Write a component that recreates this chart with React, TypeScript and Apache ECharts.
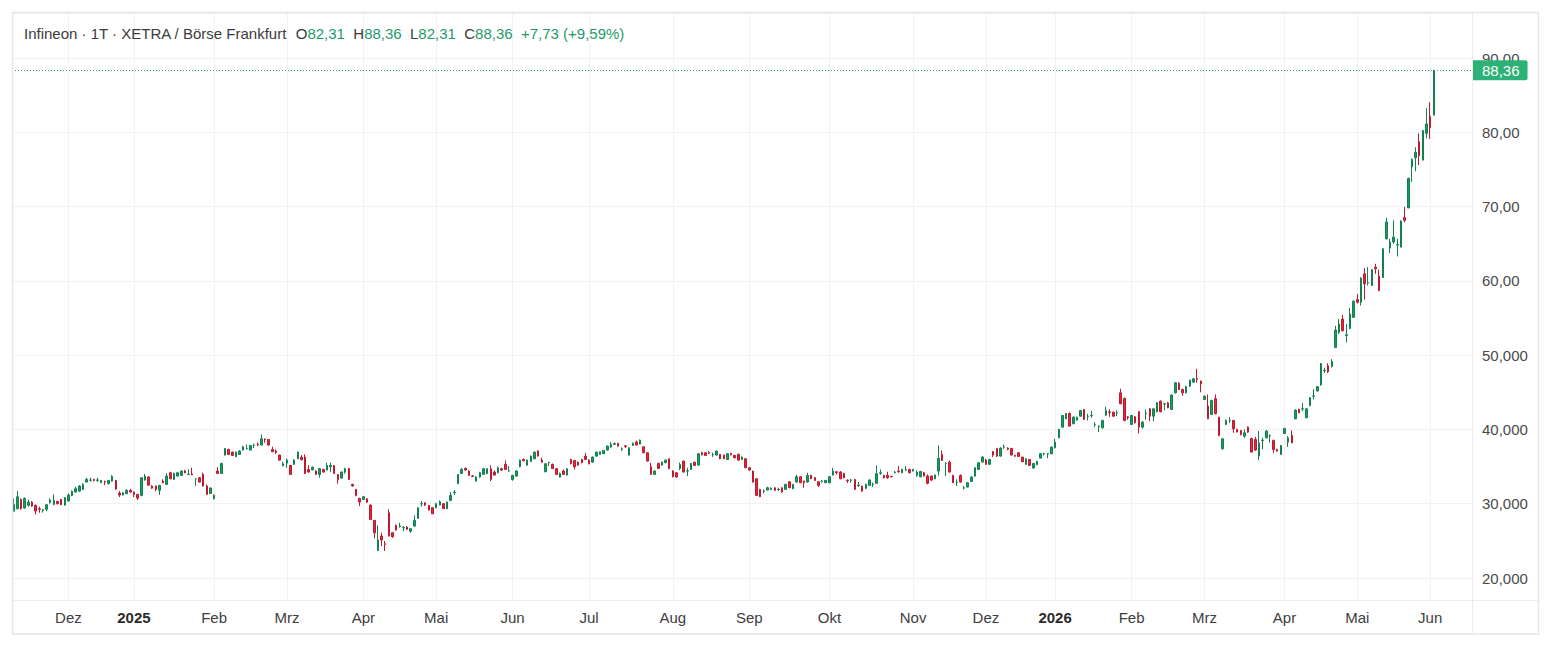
import { useEffect, useRef } from "react";
import * as echarts from "echarts";

// Daily candles, [open, close, low, high], one array per month
const nov24 = [
  [29.0, 29.9, 28.95, 30.7], [29.33, 30.94, 29.24, 31.7], [30.58, 29.33, 29.2, 30.7], [29.42, 30.72, 29.35, 30.85],
  [29.78, 30.22, 29.6, 30.58], [30.22, 29.69, 29.6, 30.35], [29.78, 29.01, 28.56, 29.9], [29.33, 29.24, 28.79, 29.6],
  [29.1, 29.18, 28.8, 29.3], [29.24, 29.87, 29.0, 29.95], [30.13, 30.49, 30.05, 30.72], [29.91, 30.45, 29.78, 31.26],
  [30.31, 30.0, 29.9, 30.4], [30.58, 29.87, 29.8, 30.65], [29.82, 30.81, 29.75, 30.9],
];
const dec24 = [
  [30.36, 31.17, 30.3, 31.4], [31.12, 31.66, 31.0, 31.8], [31.57, 32.02, 31.5, 32.3], [31.7, 32.38, 31.6, 32.5],
  [31.93, 32.6, 31.85, 32.75], [32.92, 33.27, 32.85, 33.5], [33.16, 33.2, 33.0, 33.5], [33.27, 33.14, 33.0, 33.35],
  [33.15, 33.2, 32.95, 33.5], [32.83, 33.14, 32.8, 33.2], [33.0, 32.92, 32.5, 33.1], [32.7, 33.14, 32.6, 33.2],
  [33.05, 33.68, 33.0, 33.85], [33.14, 31.97, 31.9, 33.2], [31.44, 31.17, 30.9, 31.7], [31.17, 31.48, 31.1, 31.6],
  [31.35, 31.8, 31.3, 31.95], [31.8, 31.57, 31.5, 32.0],
];
const jan25 = [
  [31.57, 31.26, 30.9, 31.65], [31.26, 30.76, 30.5, 31.3], [31.12, 33.5, 31.0, 33.55], [33.18, 33.72, 33.1, 34.0],
  [33.6, 32.5, 32.45, 33.7], [32.38, 32.1, 32.0, 32.5], [32.38, 31.93, 31.7, 32.45], [31.8, 32.47, 31.17, 32.55],
  [33.05, 32.83, 32.75, 33.3], [32.6, 33.72, 32.5, 34.1], [34.17, 33.36, 33.3, 34.3], [33.27, 34.08, 33.2, 34.2],
  [33.72, 34.17, 33.65, 34.3], [33.81, 34.4, 33.75, 34.5], [34.4, 34.17, 34.1, 34.55], [33.93, 33.97, 33.9, 34.62],
  [34.0, 33.9, 33.85, 34.85], [33.35, 33.37, 32.4, 33.4], [33.5, 32.92, 32.85, 33.6], [33.95, 32.38, 32.3, 34.17],
  [32.38, 31.26, 31.2, 32.6], [31.39, 32.11, 31.3, 32.2],
];
const feb25 = [
  [30.67, 31.12, 30.58, 31.26], [34.4, 34.08, 34.0, 34.93], [34.08, 35.43, 34.0, 35.5], [36.55, 37.44, 36.5, 37.5],
  [37.31, 36.64, 36.6, 37.4], [36.95, 36.5, 36.45, 37.0], [36.32, 36.95, 36.3, 37.0], [36.64, 37.09, 36.6, 37.2],
  [37.22, 37.67, 37.2, 37.8], [37.4, 37.45, 37.3, 37.98], [37.22, 37.85, 37.2, 37.9], [37.85, 37.9, 37.5, 38.1],
  [38.0, 37.9, 37.75, 38.25], [37.9, 38.74, 37.85, 39.33], [38.7, 38.6, 38.2, 38.8], [38.65, 37.9, 37.85, 38.7],
  [37.31, 37.0, 36.95, 37.67], [37.1, 36.9, 36.7, 37.3], [36.55, 35.87, 35.8, 36.6], [35.1, 35.38, 35.05, 35.65],
];
const mar25 = [
  [35.47, 35.87, 34.85, 36.1], [35.16, 33.95, 33.9, 35.2], [35.3, 35.87, 35.25, 36.0], [36.05, 36.95, 36.0, 37.0],
  [36.28, 35.92, 35.85, 36.55], [36.28, 34.08, 34.0, 36.64], [34.62, 34.26, 34.2, 35.2], [34.57, 34.93, 34.5, 35.0],
  [34.4, 33.95, 33.9, 34.5], [33.95, 34.75, 33.5, 34.8], [34.62, 34.26, 34.2, 34.7], [34.53, 35.16, 34.5, 35.52],
  [34.98, 35.16, 34.26, 35.52], [35.16, 34.08, 34.0, 35.2], [33.95, 33.23, 32.7, 34.0], [33.45, 34.26, 33.4, 34.35],
  [34.26, 34.7, 34.03, 34.85], [34.75, 33.27, 33.2, 34.8], [32.6, 32.38, 32.3, 32.7], [31.93, 31.12, 31.0, 32.0],
  [30.72, 30.22, 29.69, 30.8],
];
const apr25 = [
  [30.58, 30.94, 30.5, 31.0], [30.67, 30.2, 30.1, 30.7], [29.82, 27.89, 27.8, 29.9], [27.76, 26.1, 25.34, 27.8],
  [23.72, 25.11, 23.63, 27.09], [25.65, 25.11, 24.3, 26.1], [24.6, 24.53, 23.63, 24.98], [28.79, 25.65, 25.6, 29.24],
  [26.1, 25.56, 25.4, 26.2], [27.09, 26.46, 26.4, 27.2], [26.95, 27.0, 26.77, 27.44], [26.75, 26.8, 26.3, 27.0],
  [26.86, 26.55, 26.5, 27.0], [26.3, 26.64, 26.1, 26.7], [27.0, 27.76, 26.9, 28.43], [28.03, 29.46, 28.0, 29.5],
  [29.98, 30.0, 29.6, 30.36], [30.13, 29.82, 29.7, 30.2], [29.78, 29.15, 29.1, 29.85], [29.46, 28.65, 28.6, 29.5],
];
const may25 = [
  [29.46, 30.0, 29.4, 30.1], [29.82, 30.27, 29.8, 30.45], [30.0, 29.33, 29.3, 30.1], [29.33, 30.22, 29.3, 30.3],
  [30.45, 31.12, 30.4, 31.57], [31.5, 31.57, 31.2, 31.84], [32.7, 33.95, 32.65, 34.0], [34.08, 34.62, 34.0, 34.8],
  [34.75, 34.53, 34.45, 34.9], [34.4, 33.81, 33.75, 34.5], [33.75, 33.68, 33.6, 33.85], [33.05, 33.59, 33.0, 33.7],
  [33.6, 34.17, 33.5, 34.3], [33.95, 34.71, 33.9, 34.8], [34.08, 34.71, 33.95, 34.75], [34.71, 33.27, 33.05, 35.16],
  [34.26, 33.86, 33.8, 34.5], [34.17, 34.84, 34.1, 35.0], [34.71, 34.53, 34.4, 34.85], [35.3, 34.62, 34.55, 35.83],
  [34.4, 34.44, 34.3, 35.07],
];
const jun25 = [
  [33.27, 33.81, 33.1, 33.9], [33.72, 34.4, 33.65, 34.5], [34.98, 35.87, 34.9, 35.95], [35.96, 35.78, 35.7, 36.1],
  [35.2, 35.87, 35.1, 35.95], [35.7, 36.41, 35.65, 36.5], [36.05, 36.95, 36.0, 37.0], [37.09, 36.41, 36.35, 37.2],
  [35.87, 35.6, 35.55, 36.2], [34.3, 35.38, 34.25, 35.45], [35.5, 35.55, 35.07, 35.65], [35.3, 34.75, 34.7, 35.4],
  [34.71, 33.95, 33.9, 34.8], [33.59, 34.08, 33.55, 34.2], [34.4, 33.95, 33.9, 34.62], [33.86, 34.71, 33.8, 34.75],
  [35.96, 35.38, 35.3, 36.05], [35.83, 34.98, 34.6, 35.9], [35.6, 35.2, 35.1, 35.7], [35.96, 35.52, 35.45, 36.05],
  [36.41, 35.96, 35.9, 36.86],
];
const jul25 = [
  [35.87, 35.38, 35.3, 35.95], [35.6, 36.28, 35.55, 36.35], [36.41, 36.95, 36.35, 37.0], [36.64, 37.0, 36.6, 37.05],
  [36.73, 37.18, 36.7, 37.25], [37.22, 37.76, 37.15, 37.85], [37.62, 37.98, 37.55, 38.3], [38.0, 38.1, 37.9, 38.25],
  [38.12, 37.76, 37.7, 38.2], [37.35, 37.4, 37.1, 37.6], [37.8, 37.72, 37.5, 37.9], [36.55, 37.53, 36.5, 37.6],
  [37.85, 38.12, 37.8, 38.25], [38.3, 37.9, 37.85, 38.5], [38.03, 38.56, 38.0, 38.65], [37.67, 36.86, 36.8, 37.7],
  [36.86, 35.74, 35.7, 36.9], [34.98, 33.95, 33.9, 35.52], [33.95, 34.4, 33.9, 34.5], [35.43, 34.75, 34.7, 35.5],
  [35.2, 35.6, 35.15, 35.7], [35.52, 35.87, 35.45, 35.95], [36.05, 34.71, 34.65, 36.1],
];
const aug25 = [
  [34.4, 33.63, 33.55, 34.5], [34.17, 33.59, 33.5, 34.2], [34.75, 35.3, 34.53, 35.52], [35.74, 34.26, 34.2, 35.8],
  [34.4, 34.44, 33.72, 34.84], [34.62, 35.43, 34.55, 35.5], [35.6, 35.16, 35.1, 35.65], [35.2, 36.73, 35.15, 36.8],
  [36.86, 36.6, 36.5, 37.0], [36.86, 36.5, 36.45, 36.95], [36.86, 36.8, 36.7, 37.1], [36.6, 36.64, 36.3, 36.86],
  [36.55, 37.09, 36.5, 37.15], [36.64, 36.05, 36.0, 36.7], [36.55, 36.05, 36.0, 36.6], [35.96, 36.73, 35.9, 36.8],
  [36.77, 36.6, 36.5, 36.86], [36.5, 36.19, 36.1, 36.6], [36.64, 35.87, 35.8, 36.75], [35.96, 36.28, 35.9, 36.35],
  [36.05, 34.84, 34.8, 36.1],
];
const sep25 = [
  [34.84, 34.53, 34.45, 34.9], [34.4, 32.92, 32.85, 34.45], [33.36, 31.12, 31.05, 33.4], [31.93, 30.94, 30.9, 32.0],
  [31.66, 31.7, 31.4, 31.93], [31.84, 32.15, 31.8, 32.3], [31.9, 32.1, 31.85, 32.2], [32.15, 31.8, 31.75, 32.2],
  [31.9, 31.95, 31.7, 32.15], [32.15, 31.57, 31.5, 32.2], [31.93, 32.6, 31.9, 32.7], [32.96, 32.15, 32.1, 33.0],
  [32.02, 32.6, 31.95, 32.65], [32.92, 33.63, 32.85, 33.9], [33.63, 32.83, 32.75, 33.7], [33.05, 32.83, 32.15, 33.1],
  [32.92, 33.81, 32.85, 34.17], [33.81, 33.36, 33.3, 33.9], [33.5, 33.14, 33.1, 33.6], [32.96, 32.47, 32.25, 33.0],
  [33.0, 33.05, 32.85, 33.2], [32.83, 33.14, 32.8, 33.2],
];
const oct25 = [
  [32.83, 33.63, 32.75, 33.7], [33.86, 34.4, 33.8, 34.84], [34.3, 34.2, 33.95, 34.4], [34.26, 33.36, 33.3, 34.4],
  [34.08, 33.5, 33.4, 34.17], [33.18, 33.1, 32.8, 33.27], [33.14, 33.2, 32.83, 33.36], [33.27, 31.93, 31.9, 33.3],
  [32.47, 32.5, 32.25, 32.92], [32.38, 31.7, 31.6, 32.4], [32.06, 32.6, 32.0, 32.7], [32.47, 33.18, 32.4, 33.3],
  [32.6, 32.65, 32.25, 32.83], [32.74, 34.04, 32.7, 35.16], [34.1, 34.17, 33.9, 34.62], [33.81, 33.5, 33.4, 33.9],
  [33.81, 33.5, 33.36, 34.3], [33.68, 33.63, 33.55, 33.75], [34.17, 34.26, 34.1, 34.4], [34.4, 34.3, 34.17, 35.07],
  [34.17, 34.62, 34.1, 34.7], [34.53, 34.6, 34.4, 35.07], [34.62, 34.17, 34.1, 34.7],
];
const nov25 = [
  [34.4, 34.62, 34.35, 34.7], [33.81, 34.26, 33.63, 34.48], [33.63, 34.35, 33.55, 34.4], [34.17, 33.72, 33.65, 34.3],
  [33.72, 32.74, 32.6, 33.95], [33.72, 33.18, 33.1, 33.8], [33.36, 33.86, 33.3, 33.95], [34.39, 36.1, 33.81, 37.85],
  [36.64, 35.83, 35.75, 37.18], [35.4, 35.43, 33.72, 35.6], [35.6, 34.26, 34.2, 35.83], [33.81, 32.83, 32.8, 33.9],
  [32.9, 32.92, 32.38, 33.27], [33.81, 32.92, 32.85, 33.95], [32.1, 32.15, 31.93, 32.38], [32.24, 32.83, 32.2, 32.92],
  [33.0, 33.59, 32.95, 33.7], [33.72, 34.84, 33.65, 34.93], [34.62, 35.52, 34.55, 35.6], [35.61, 36.28, 35.55, 36.41],
];
const dec25 = [
  [35.87, 35.3, 35.2, 36.05], [35.3, 35.96, 35.25, 36.05], [37.0, 36.55, 36.3, 37.1], [37.45, 36.41, 36.3, 37.5],
  [36.41, 37.49, 36.35, 37.6], [37.6, 37.63, 37.4, 37.98], [37.49, 37.35, 37.2, 37.6], [37.45, 36.55, 36.5, 37.5],
  [36.5, 36.4, 36.3, 36.6], [36.86, 36.37, 36.3, 36.9], [36.28, 35.65, 35.6, 36.3], [35.3, 36.05, 35.25, 36.1],
  [35.96, 35.16, 35.1, 36.0], [34.8, 35.43, 34.75, 35.5], [35.25, 35.7, 35.2, 35.8], [36.14, 36.73, 36.1, 36.8],
  [36.7, 36.75, 36.5, 36.86], [36.7, 36.75, 36.14, 36.8], [36.73, 37.62, 36.65, 37.7],
];
const jan26 = [
  [37.53, 38.3, 37.45, 38.74], [38.88, 40.0, 38.8, 40.1], [40.31, 41.88, 40.25, 41.95], [41.43, 42.15, 41.4, 42.2],
  [42.15, 40.45, 40.4, 42.3], [40.76, 41.66, 40.7, 41.75], [41.26, 41.66, 41.2, 41.7], [41.79, 42.55, 41.7, 42.6],
  [42.69, 41.35, 41.3, 42.75], [41.75, 41.79, 41.2, 42.1], [41.84, 41.88, 41.57, 42.47], [40.63, 40.67, 40.31, 40.99],
  [40.4, 40.45, 39.64, 40.54], [40.22, 41.21, 40.15, 41.3], [41.92, 42.55, 41.85, 43.05], [42.37, 42.3, 41.7, 42.7],
  [42.33, 41.79, 41.7, 42.4], [42.2, 42.24, 41.79, 42.6], [44.93, 43.45, 43.4, 45.47], [44.17, 41.21, 41.1, 44.3],
  [41.7, 41.57, 41.3, 41.8],
];
const feb26 = [
  [40.67, 41.88, 40.6, 41.95], [41.7, 40.9, 40.8, 41.8], [42.38, 40.31, 39.46, 42.45], [40.31, 40.99, 40.1, 41.1],
  [42.15, 42.2, 41.3, 42.69], [42.78, 41.79, 41.1, 42.85], [41.79, 42.78, 41.1, 42.85], [42.38, 43.59, 42.3, 43.7],
  [43.81, 42.38, 42.3, 43.9], [43.41, 43.45, 42.55, 43.6], [43.59, 42.91, 42.85, 43.7], [42.69, 44.62, 42.6, 44.71],
  [44.93, 46.28, 44.85, 46.35], [46.19, 45.38, 45.3, 46.37], [45.38, 44.93, 44.53, 45.5], [44.93, 45.74, 44.85, 45.9],
  [45.83, 46.64, 45.75, 46.7], [46.37, 46.82, 46.3, 46.9], [46.82, 46.73, 46.28, 48.16], [46.5, 46.14, 45.0, 46.6],
];
const mar26 = [
  [44.04, 44.48, 44.0, 44.6], [43.14, 41.43, 41.4, 44.71], [42.02, 43.9, 41.95, 44.0], [44.13, 42.11, 42.05, 44.71],
  [41.66, 39.2, 39.1, 41.7], [37.4, 38.74, 37.3, 38.85], [40.67, 41.21, 40.6, 41.35], [41.15, 41.21, 40.85, 41.66],
  [41.21, 40.09, 39.55, 41.3], [40.0, 39.64, 39.6, 40.1], [39.87, 39.33, 39.2, 39.9], [39.1, 39.55, 38.88, 40.0],
  [40.31, 39.64, 39.55, 40.4], [38.79, 36.95, 36.9, 38.85], [38.65, 37.22, 37.1, 39.0], [36.41, 38.21, 35.87, 39.78],
  [38.5, 38.56, 37.31, 38.88], [38.88, 39.78, 38.8, 39.9], [39.15, 39.2, 38.2, 39.33], [38.52, 37.31, 36.86, 38.65],
  [37.31, 37.09, 37.0, 37.4], [36.64, 37.85, 36.55, 37.9],
];
const apr26 = [
  [39.46, 40.14, 39.4, 40.2], [38.29, 38.87, 37.67, 39.1], [39.19, 38.2, 38.15, 39.87], [41.44, 42.61, 41.35, 42.7],
  [42.69, 42.24, 42.2, 42.8], [42.75, 42.78, 42.47, 43.59], [41.57, 42.78, 41.5, 42.85], [43.24, 44.28, 43.1, 44.35],
  [44.46, 44.5, 44.04, 45.4], [45.18, 45.77, 45.1, 45.83], [45.99, 48.87, 45.9, 48.95], [47.9, 47.97, 47.6, 48.3],
  [48.56, 47.75, 47.6, 48.9], [48.47, 49.14, 48.35, 49.46], [51.04, 53.38, 50.95, 53.96], [53.06, 54.19, 52.84, 54.86],
  [54.86, 53.29, 53.2, 55.41], [52.65, 52.75, 51.71, 54.19], [53.6, 55.54, 53.5, 56.35], [55.09, 57.25, 55.0, 57.4],
];
const may26 = [
  [57.48, 57.12, 56.95, 58.24], [57.12, 60.36, 56.67, 60.5], [60.95, 59.59, 57.48, 61.71], [59.7, 59.75, 59.37, 61.85],
  [59.37, 61.49, 59.3, 61.6], [61.85, 61.62, 60.95, 62.3], [60.63, 58.69, 58.6, 61.49], [60.45, 64.32, 60.4, 64.4],
  [65.68, 67.93, 65.54, 68.51], [64.41, 65.23, 63.74, 65.68], [65.23, 65.9, 64.99, 68.15], [64.84, 64.88, 63.29, 65.68],
  [64.55, 68.06, 64.5, 68.15], [68.51, 68.15, 67.88, 69.95], [69.82, 73.78, 69.8, 73.9], [75.36, 76.35, 73.33, 76.49],
  [76.58, 77.3, 74.77, 77.97], [78.74, 76.85, 75.59, 79.86], [76.26, 80.23, 76.2, 80.3], [79.86, 81.13, 79.19, 83.24],
];
const jun26 = [
  [82.12, 80.63, 79.1, 84.05], [82.31, 88.36, 82.31, 88.36],
];

const candles = [
  ...nov24, ...dec24, ...jan25, ...feb25, ...mar25, ...apr25, ...may25, ...jun25, ...jul25, ...aug25, ...sep25,
  ...oct25, ...nov25, ...dec25, ...jan26, ...feb26, ...mar26, ...apr26, ...may26, ...jun26,
];

// XETRA trading calendar
const firstDay = "2024-11-11";
const lastDay = "2026-06-02";
const holidays = [
  "2024-12-24", "2024-12-25", "2024-12-26", "2024-12-31", "2025-01-01", "2025-04-18", "2025-04-21", "2025-05-01",
  "2025-12-24", "2025-12-25", "2025-12-26", "2025-12-31", "2026-01-01", "2026-04-03", "2026-04-06", "2026-05-01",
];
const monthNames = ["Jan", "Feb", "Mrz", "Apr", "Mai", "Jun", "Jul", "Aug", "Sep", "Okt", "Nov", "Dez"];
const yTickValues = [20, 30, 40, 50, 60, 70, 80, 90];
const yTickLabels = ["20,000", "30,000", "40,000", "50,000", "60,00", "70,00", "80,00", "90,00"];
const emptySlots = 10;

const title = "Infineon · 1T · XETRA / Börse Frankfurt";

const FONT = "'Liberation Sans', Arial, Helvetica, sans-serif";
const UP = "#1b9a62";
const UP_BORDER = "#128050";
const DOWN = "#e0283e";
const DOWN_BORDER = "#bd1a2f";
const TEXT_GREEN = "#1f9a6b";
const LABEL_GREEN = "#2cb276";
const GRID = "#f2f2f2";
const FRAME = "#e6e6e6";

function tradingDays(from: string, to: string): string[] {
  const off = new Set(holidays);
  const out: string[] = [];
  const d = new Date(from + "T00:00:00Z");
  const end = new Date(to + "T00:00:00Z");
  while (d.getTime() <= end.getTime()) {
    const wd = d.getUTCDay();
    const iso = d.toISOString().slice(0, 10);
    if (wd !== 0 && wd !== 6 && !off.has(iso)) out.push(iso);
    d.setUTCDate(d.getUTCDate() + 1);
  }
  return out;
}

const fmt = (v: number) => v.toFixed(2).replace(".", ",");

export default function App() {
  const ref = useRef<HTMLDivElement>(null);

  useEffect(() => {
    if (!ref.current) return;
    const chart = echarts.init(ref.current, undefined, { renderer: "svg" });

    const days = tradingDays(firstDay, lastDay);
    const categories = [...days];
    for (let k = 0; k < emptySlots; k++) categories.push("_" + k);

    const monthStart = new Set<number>();
    for (let i = 1; i < days.length; i++) {
      if (days[i].slice(5, 7) !== days[i - 1].slice(5, 7)) monthStart.add(i);
    }
    const showTick = (index: number) => monthStart.has(index);

    const last = candles[candles.length - 1];
    const prev = candles[candles.length - 2];
    const change = last[1] - prev[1];
    const pct = (change / prev[1]) * 100;
    const sign = change >= 0 ? "+" : "-";
    const header =
      `{t|${title}}  {t|O}{g|${fmt(last[0])}}  {t|H}{g|${fmt(last[3])}}  {t|L}{g|${fmt(last[2])}}  ` +
      `{t|C}{g|${fmt(last[1])}}  {g|${sign}${fmt(Math.abs(change))} (${sign}${fmt(Math.abs(pct))}%)}`;

    chart.setOption({
      animation: false,
      backgroundColor: "#ffffff",
      textStyle: { fontFamily: FONT },
      title: {
        left: 24,
        top: 24,
        padding: 0,
        text: header,
        textStyle: {
          fontSize: 15,
          fontWeight: "normal",
          color: "#3b3b3b",
          fontFamily: FONT,
          lineHeight: 18,
          rich: {
            t: { color: "#3b3b3b", fontSize: 15, fontFamily: FONT, lineHeight: 18 },
            g: { color: TEXT_GREEN, fontSize: 15, fontFamily: FONT, lineHeight: 18 },
          },
        },
      },
      grid: { left: 12, right: 80, top: 13, bottom: 48, containLabel: false, outerBoundsMode: "none" },
      xAxis: {
        type: "category",
        data: categories,
        boundaryGap: true,
        axisLine: { show: false },
        axisTick: { show: false },
        axisLabel: {
          interval: (index: number) => showTick(index),
          hideOverlap: false,
          margin: 10,
          fontSize: 15,
          fontFamily: FONT,
          color: "#3d3d3d",
          formatter: (value: string) => {
            const m = Number(value.slice(5, 7));
            if (!m) return "";
            if (m === 1) return `{y|${value.slice(0, 4)}}`;
            return monthNames[m - 1];
          },
          rich: { y: { fontWeight: "bold", color: "#2b2b2b", fontSize: 15, fontFamily: FONT } },
        },
        splitLine: {
          show: true,
          interval: (index: number) => showTick(index),
          alignWithLabel: true,
          lineStyle: { color: GRID, width: 1 },
        },
      },
      yAxis: {
        type: "value",
        position: "right",
        min: 17.04,
        max: 96.06,
        splitNumber: 8,
        minInterval: 10,
        maxInterval: 10,
        axisLine: { show: false },
        axisTick: { show: false },
        axisLabel: {
          margin: 10,
          fontSize: 15,
          fontFamily: FONT,
          color: "#4a4a4a",
          formatter: (v: number) => {
            const k = yTickValues.findIndex((t) => Math.abs(t - v) < 1e-6);
            return k >= 0 ? yTickLabels[k] : "";
          },
        },
        splitLine: { show: true, lineStyle: { color: GRID, width: 1 } },
      },
      series: [
        {
          type: "candlestick",
          data: candles,
          barWidth: 2,
          itemStyle: {
            color: UP,
            color0: DOWN,
            borderColor: UP_BORDER,
            borderColor0: DOWN_BORDER,
            borderWidth: 1,
          },
          markLine: {
            silent: true,
            symbol: ["none", "none"],
            data: [{ yAxis: last[1] }],
            lineStyle: { type: [1, 2], color: "#20a878", width: 1 },
            label: {
              show: true,
              position: "end",
              distance: 1,
              formatter: () => fmt(last[1]),
              color: "#ffffff",
              backgroundColor: LABEL_GREEN,
              fontSize: 15,
              fontFamily: FONT,
              padding: [3, 8, 2, 9],
              borderRadius: [0, 2, 2, 0],
            },
          },
        },
      ],
      graphic: [
        {
          type: "line",
          silent: true,
          z: 50,
          shape: { x1: 1472.5, y1: 12.5, x2: 1472.5, y2: 634 },
          style: { stroke: "#ececec", lineWidth: 1 },
        },
        {
          type: "line",
          silent: true,
          z: 50,
          shape: { x1: 12.5, y1: 600.5, x2: 1538.5, y2: 600.5 },
          style: { stroke: "#ececec", lineWidth: 1 },
        },
        {
          type: "rect",
          silent: true,
          z: 60,
          shape: { x: 12.5, y: 12.5, width: 1526, height: 621.5 },
          style: { fill: "none", stroke: FRAME, lineWidth: 1.5 },
        },
      ],
    });

    return () => chart.dispose();
  }, []);

  return (
    <div
      ref={ref}
      style={{ position: "fixed", left: 0, top: 0, width: 1552, height: 648, background: "#fff" }}
    />
  );
}
